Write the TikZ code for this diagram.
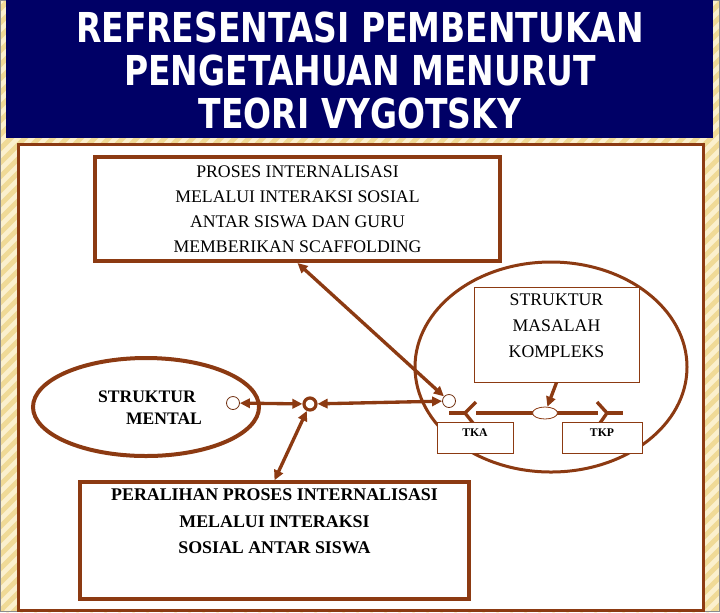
\documentclass[tikz,border=0pt]{standalone}
\usepackage{fontspec}
\setmainfont{Liberation Serif}
\newfontfamily\titlefont{DejaVu Sans}
\usetikzlibrary{arrows.meta,shapes.geometric}
\definecolor{brn}{RGB}{140,58,18}
\definecolor{navy}{RGB}{0,0,102}
\definecolor{beige}{RGB}{240,218,150}
\definecolor{beigelt}{RGB}{251,240,205}
\begin{document}
\begin{tikzpicture}[x=0.75pt,y=-0.75pt,
  box/.style={draw=brn,fill=white,line width=2.6pt,inner sep=0pt},
  thinbox/.style={draw=brn,fill=white,line width=0.75pt,inner sep=0pt},
  txt/.style={font=\fontsize{13.3}{18.75}\selectfont,align=center,inner sep=0pt},
  btxt/.style={font=\bfseries\fontsize{13.4}{19.9}\selectfont,align=center,inner sep=0pt},
  tk/.style={font=\bfseries\fontsize{8.8}{10}\selectfont,inner sep=0pt},
  dot/.style={circle,draw=brn!80!black,fill=white,line width=0.6pt,minimum size=13*0.75pt,inner sep=0pt},
  hub/.style={circle,draw=brn,fill=white,line width=2.4pt,minimum size=12*0.75pt,inner sep=0pt},
  conn/.style={draw=brn,line width=2.5pt},
  dbl/.style={conn,{Triangle[length=7.5pt,width=7pt]}-{Triangle[length=7.5pt,width=7pt]}},
  sgl/.style={conn,-{Triangle[length=7.5pt,width=7pt]}},
  titletxt/.style={text=white,align=center,inner sep=0pt,
    font=\titlefont\bfseries\fontsize{30.9}{32.25}\selectfont}]
\useasboundingbox (0,0) rectangle (720,612);
% background
\fill[beige] (0,0) rectangle (720,612);
\begin{scope}
  \clip (0,0) rectangle (720,612);
  \foreach \i in {-624,-610,...,720}
    \draw[beigelt,line width=3.5pt] (\i,612) -- ++(612,-612);
\end{scope}
\draw[black!45,line width=1pt] (0.7,0.7) rectangle (719.3,611.3);
% title
\fill[navy] (6,0) rectangle (713,138);
\node[titletxt,xscale=0.8] (title) at (360,70)
  {REFRESENTASI PEMBENTUKAN\\PENGETAHUAN MENURUT\\TEORI VYGOTSKY};
% panel
\draw[brn,line width=2.25pt,fill=white] (18,144) rectangle (703,610);
% left ellipse
\node[ellipse,draw=brn,line width=3pt,minimum width=226*0.75pt,minimum height=98*0.75pt,inner sep=0pt] (mental) at (146,407) {};
\node[btxt,align=left,font=\bfseries\fontsize{13.2}{16.5}\selectfont] (mentaltxt) at (150,408)
  {STRUKTUR\\\hspace*{21pt}MENTAL};
% right ellipse
\node[ellipse,draw=brn,line width=2.25pt,minimum width=272*0.75pt,minimum height=210*0.75pt,inner sep=0pt] (zone) at (551,367) {};
% top box
\node[box,line width=3pt,minimum width=405*0.75pt,minimum height=104*0.75pt,txt] (topbox) at (297.5,209)
  {PROSES INTERNALISASI\\MELALUI INTERAKSI SOSIAL\\ANTAR SISWA DAN GURU\\MEMBERIKAN SCAFFOLDING};
% masalah box
\node[thinbox,minimum width=165*0.75pt,minimum height=95*0.75pt,
  label={[txt,font=\fontsize{13.3}{19.5}\selectfont,yshift=6.4pt]center:STRUKTUR\\MASALAH\\KOMPLEKS}] (masalah) at (556.5,334.5) {};
% bottom box
\node[box,minimum width=389*0.75pt,minimum height=117*0.75pt,
  label={[btxt,yshift=14.2pt]center:PERALIHAN PROSES INTERNALISASI\\MELALUI INTERAKSI\\SOSIAL ANTAR SISWA}] (botbox) at (274.5,540.5) {};
% baseline with brackets
\draw[conn] (449,413) -- (465,413);
\draw[conn,line join=round] (476,402) -- (465,413) -- (473,423);
\draw[conn] (476,413) -- (598,413);
\draw[conn,line join=round] (597,402) -- (607,413) -- (600,423);
\draw[conn] (607,413) -- (623,413);
% TKA / TKP
\node[thinbox,minimum width=76*0.75pt,minimum height=31*0.75pt,
  label={[tk,yshift=3.4pt]center:TKA}] (tka) at (475,437.5) {};
\node[thinbox,minimum width=80*0.75pt,minimum height=31*0.75pt,
  label={[tk,yshift=3.4pt]center:TKP}] (tkp) at (602,437.5) {};
\node[ellipse,draw=brn,fill=white,line width=0.6pt,minimum width=25*0.75pt,minimum height=12*0.75pt,inner sep=0pt] (ell) at (545,413) {};
% circles
\node[dot] (scL) at (233,403) {};
\node[hub] (cc) at (310,404) {};
\node[dot] (scR) at (449,401) {};
% connectors
\draw[dbl] (scL) -- (cc);
\draw[dbl] (cc) -- (scR);
\draw[dbl] (topbox.south) -- (scR);
\draw[dbl] (cc) -- (botbox.north);
\draw[sgl] (masalah.south) -- (ell);
\end{tikzpicture}
\end{document}
